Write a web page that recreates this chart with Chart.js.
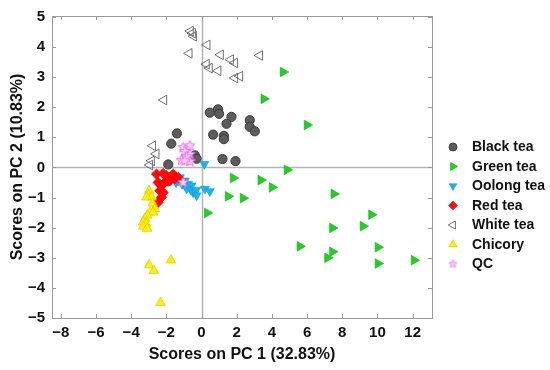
<!DOCTYPE html>
<html><head><meta charset="utf-8">
<script src="https://cdn.jsdelivr.net/npm/chart.js@4/dist/chart.umd.min.js"></script>
<style>html,body{margin:0;padding:0;background:#fff}#wrap{width:550px;height:370px}</style>
</head><body><div id="wrap"><canvas id="c" width="550" height="370"></canvas></div>
<script>
const seriesNames = ["Black tea","Green tea","Oolong tea","Red tea","White tea","Chicory","QC"];
const blackTea = [[0.47,1.82],[0.94,1.93],[1.0,1.78],[1.7,1.68],[1.42,1.45],[2.74,1.57],[2.74,1.35],[3.03,1.2],[0.66,1.09],[1.27,1.05],[1.27,0.94],[1.19,0.28],[1.93,0.21],[-1.4,1.13],[-1.72,0.79],[-0.38,0.4],[-0.28,0.29],[-1.89,0.1]];
const greenTea = [[4.64,3.17],[3.54,2.28],[6.0,1.41],[4.86,-0.08],[1.8,-0.35],[3.37,-0.42],[4.01,-0.66],[1.51,-0.96],[2.36,-1.02],[0.32,-1.51],[7.52,-0.88],[9.66,-1.57],[9.18,-1.95],[7.44,-2.01],[5.59,-2.62],[7.44,-2.8],[7.16,-3.0],[10.03,-2.65],[10.03,-3.19],[12.08,-3.08]];
const oolongTea = [[0.16,0.11],[-1.6,-0.35],[-1.33,-0.44],[-1.23,-0.33],[-1.1,-0.55],[-0.95,-0.44],[-0.76,-0.55],[-0.57,-0.6],[-0.85,-0.71],[-0.6,-0.75],[-0.48,-0.83],[-0.3,-0.75],[-0.28,-0.93],[0.19,-0.71],[0.47,-0.79],[-1.45,-0.5]];
const redTea = [[-2.56,-0.22],[-2.18,-0.2],[-1.99,-0.27],[-1.61,-0.22],[-1.8,-0.44],[-1.52,-0.38],[-1.33,-0.33],[-2.47,-0.5],[-2.27,-0.6],[-2.37,-0.77],[-2.18,-0.83],[-2.27,-0.99],[-2.47,-1.16],[-2.1,-0.5],[-1.9,-0.46]];
const whiteTea = [[-0.63,4.53],[-0.51,4.46],[-0.45,4.36],[0.32,4.07],[-0.7,3.79],[1.08,3.74],[1.65,3.58],[1.89,3.47],[3.31,3.72],[0.28,3.43],[0.45,3.3],[0.94,3.21],[1.89,2.97],[2.18,3.03],[-2.14,2.24],[-2.77,0.72],[-2.58,0.45],[-2.84,0.22],[-2.94,0.08]];
const chicory = [[-2.98,-0.77],[-3.03,-0.93],[-2.84,-0.99],[-3.13,-0.99],[-2.78,-1.19],[-2.65,-1.37],[-2.94,-1.49],[-2.75,-1.49],[-3.09,-1.59],[-3.22,-1.7],[-3.32,-1.82],[-3.16,-1.87],[-3.32,-1.96],[-3.09,-2.03],[-1.74,-3.08],[-2.98,-3.24],[-2.71,-3.43],[-2.33,-4.49]];
const qc = [[-1.05,0.66],[-0.66,0.72],[-0.95,0.53],[-0.66,0.44],[-1.14,0.24],[-0.66,0.2],[-0.85,0.35],[-0.95,0.22],[-1.05,-0.5]];
const xTicks = [-8,-6,-4,-2,0,2,4,6,8,10,12];
const yTicks = [-5,-4,-3,-2,-1,0,1,2,3,4,5];
const xLimits = [-8.5, 13.1];
const yLimits = [-5, 5.03];
const xTitle = "Scores on PC 1 (32.83%)";
const yTitle = "Scores on PC 2 (10.83%)";

function starImg(size, outer, inner, stroke, fill){
  const c = document.createElement('canvas'); c.width = size; c.height = size;
  const g = c.getContext('2d'); const cx = size/2, cy = size/2;
  g.beginPath();
  for (let i=0;i<10;i++){ const r = i%2===0?outer:inner; const a = -Math.PI/2 + i*Math.PI/5;
    const px = cx + r*Math.cos(a), py = cy + r*Math.sin(a); if(i===0) g.moveTo(px,py); else g.lineTo(px,py);}
  g.closePath(); g.fillStyle = fill; g.fill(); g.strokeStyle = stroke; g.lineWidth = 0.9; g.stroke();
  return c;
}
const star = starImg(13, 5.5, 2.4, '#f060f0', '#ffd6ff');
const starSmall = starImg(11, 4.2, 1.9, '#f070f0', '#ffd6ff');

const toPts = a => a.map(p => ({x:p[0], y:p[1]}));
const styles = [
  {data: blackTea, pointStyle:'circle', rotation:0, r:4.6, bg:'#5c5c5c', bc:'#3a3a3a', bw:1, order:7},
  {data: greenTea, pointStyle:'triangle', rotation:90, r:5.6, bg:'#1fd21f', bc:'#15a815', bw:0.6, order:6},
  {data: oolongTea, pointStyle:'triangle', rotation:180, r:5.2, bg:'#19b5ec', bc:'#1399c9', bw:0.6, order:5},
  {data: redTea, pointStyle:'rectRot', rotation:0, r:5.2, bg:'#ff0a0a', bc:'#e00000', bw:0.6, order:4},
  {data: whiteTea, pointStyle:'triangle', rotation:270, r:5.6, bg:'rgba(255,255,255,0)', bc:'#606060', bw:0.9, order:3},
  {data: chicory, pointStyle:'triangle', rotation:0, r:5.6, bg:'#fff000', bc:'#d8c000', bw:0.6, order:2},
  {data: qc, pointStyle:star, rotation:0, r:5.5, bg:'#ffd6ff', bc:'#f060f0', bw:0, order:1}
];
const datasets = styles.map((s,i)=>({
  label: seriesNames[i], data: toPts(s.data), pointStyle: s.pointStyle, rotation: s.rotation,
  pointRadius: s.r, pointHoverRadius: s.r, backgroundColor: s.bg, borderColor: s.bc, borderWidth: s.bw,
  showLine:false, order: s.order
}));

const frame = {
  id:'frame',
  beforeDatasetsDraw(chart){
    const {ctx, chartArea:a, scales:{x,y}} = chart;
    ctx.save();
    ctx.strokeStyle = '#b4b4b4'; ctx.lineWidth = 1.5;
    const x0 = Math.round(x.getPixelForValue(0))+0.5, y0 = Math.round(y.getPixelForValue(0))+0.5;
    ctx.beginPath(); ctx.moveTo(x0,a.top); ctx.lineTo(x0,a.bottom); ctx.moveTo(a.left,y0); ctx.lineTo(a.right,y0); ctx.stroke();
    ctx.restore();
  },
  afterDraw(chart){
    const {ctx, chartArea:a, scales:{x,y}} = chart;
    ctx.save();
    ctx.strokeStyle = '#9a9a9a'; ctx.lineWidth = 1;
    ctx.strokeRect(Math.round(a.left)+0.5, Math.round(a.top)+0.5, Math.round(a.right-a.left), Math.round(a.bottom-a.top));
    ctx.beginPath();
    const L = 4;
    xTicks.forEach(v=>{ const p = Math.round(x.getPixelForValue(v))+0.5;
      ctx.moveTo(p,a.bottom); ctx.lineTo(p,a.bottom-L); ctx.moveTo(p,a.top); ctx.lineTo(p,a.top+L); });
    yTicks.forEach(v=>{ const p = Math.round(y.getPixelForValue(v))+0.5;
      ctx.moveTo(a.left,p); ctx.lineTo(a.left+L,p); ctx.moveTo(a.right,p); ctx.lineTo(a.right-L,p); });
    ctx.stroke();
    // legend
    const lx = 453, tx = 472, ly0 = 147, dy = 19.5;
    ctx.font = 'bold 14px "Liberation Sans", Arial, sans-serif';
    ctx.textBaseline = 'middle'; ctx.textAlign = 'left';
    styles.forEach((s,i)=>{
      const yy = ly0 + i*dy;
      ctx.fillStyle = s.bg; ctx.strokeStyle = s.bc; ctx.lineWidth = s.bw;
      const ps = (s.pointStyle === star) ? starSmall : s.pointStyle;
      Chart.helpers.drawPoint(ctx, {pointStyle: ps, rotation: s.rotation, radius: s.r*0.85, borderWidth: s.bw}, lx, yy);
      ctx.fillStyle = '#111'; ctx.fillText(seriesNames[i], tx, yy+0.5);
    });
    ctx.restore();
  }
};

const fmt = v => String(v).replace('-', '\u2212');
const tickFont = {family:'"Liberation Sans", Arial, sans-serif', size:15, weight:'bold'};
const titleFont = {family:'"Liberation Sans", Arial, sans-serif', size:16, weight:'bold'};
new Chart(document.getElementById('c'), {
  type:'scatter',
  data:{datasets},
  options:{
    responsive:false, animation:false, devicePixelRatio:1,
    layout:{padding:{left:0, right:118, top:14, bottom:0}},
    plugins:{legend:{display:false}, tooltip:{enabled:false}},
    scales:{
      x:{type:'linear', min:xLimits[0], max:xLimits[1],
        afterBuildTicks: s => { s.ticks = xTicks.map(v=>({value:v})); },
        afterFit: s => { s.height = 52; },
        grid:{display:false, drawTicks:false}, border:{display:false},
        ticks:{padding:6, color:'#111', font:tickFont, callback: v => fmt(v), maxRotation:0, autoSkip:false},
        title:{display:true, text:xTitle, color:'#111', font:titleFont, padding:{top:0,bottom:5.5}}
      },
      y:{type:'linear', min:yLimits[0], max:yLimits[1],
        afterBuildTicks: s => { s.ticks = yTicks.map(v=>({value:v})); },
        afterFit: s => { s.width = 52; },
        grid:{display:false, drawTicks:false}, border:{display:false},
        ticks:{padding:7, color:'#111', font:tickFont, callback: v => fmt(v), autoSkip:false},
        title:{display:true, text:yTitle, color:'#111', font:titleFont, padding:{top:7.5,bottom:0}}
      }
    }
  },
  plugins:[frame]
});
</script></body></html>
